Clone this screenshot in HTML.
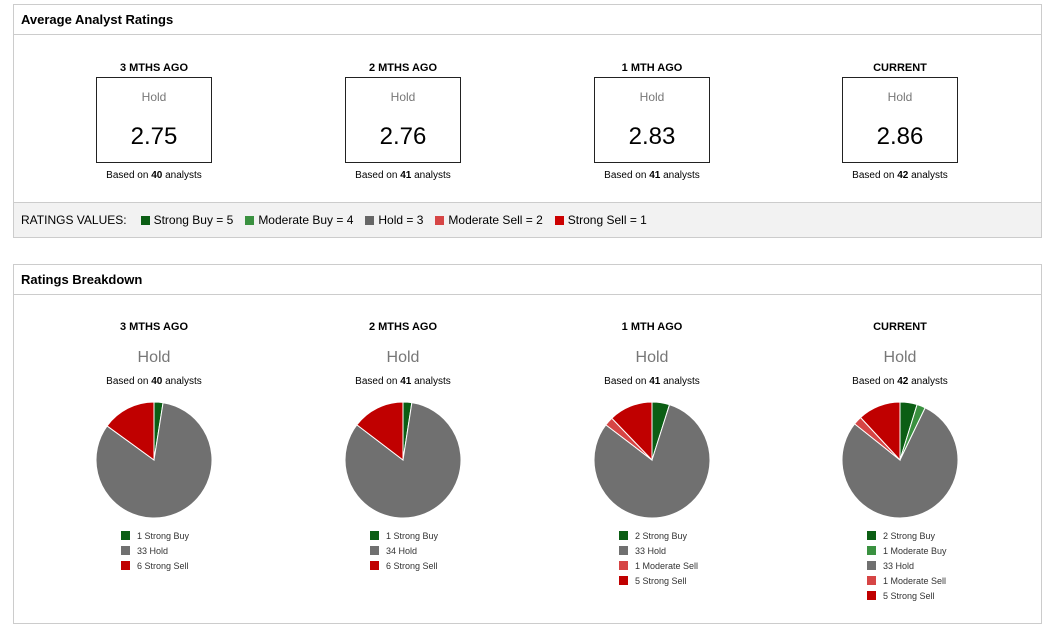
<!DOCTYPE html>
<html><head><meta charset="utf-8">
<style>
body{margin:0;width:1051px;height:630px;background:#fff;font-family:"Liberation Sans",sans-serif;position:relative;overflow:hidden;color:#000}
.panel{position:absolute;left:13px;width:1027px;border:1px solid #ccc;background:#fff}
.ph{height:29px;border-bottom:1px solid #ccc;font-weight:bold;font-size:13px;line-height:29px;padding-left:7px}
.a{position:absolute;text-align:center;width:200px}
.t{font-weight:bold;font-size:11px}
.box{position:absolute;width:114px;height:84px;border:1px solid #222;text-align:center}
.box .h{color:#777;font-size:12px;margin-top:12px}
.box .v{font-size:24px;margin-top:19px}
.based{font-size:10px}
.foot{position:absolute;left:0;bottom:0;width:100%;height:35px;background:#f2f2f2;border-top:1px solid #ccc;font-size:12px;line-height:35px;padding-left:7px;box-sizing:border-box}
.sq{display:inline-block;width:9px;height:9px;margin:0 4px 0 12px;vertical-align:-1px}
.hold2{font-size:16px;color:#777}
.leg{position:absolute;font-size:9px;color:#333}
.leg div{height:15px;line-height:15px}
.leg span{display:inline-block;width:9px;height:9px;margin-right:7px;vertical-align:-1px}
</style></head><body>
<div class="panel" style="top:4px;height:232px">
<div class="ph">Average Analyst Ratings</div>
<div class="foot">RATINGS VALUES:<span class="sq" style="background:#0b5e14;margin-left:14px"></span>Strong Buy = 5<span class="sq" style="background:#3a9140"></span>Moderate Buy = 4<span class="sq" style="background:#666"></span>Hold = 3<span class="sq" style="background:#d64545"></span>Moderate Sell = 2<span class="sq" style="background:#c00"></span>Strong Sell = 1</div>
</div>
<div class="panel" style="top:264px;height:358px">
<div class="ph">Ratings Breakdown</div>
</div>
<div id="root"></div>
<script>
const periods=["3 MTHS AGO","2 MTHS AGO","1 MTH AGO","CURRENT"];
const scores=["2.75","2.76","2.83","2.86"];
const analysts=[40,41,41,42];
const labels=["Strong Buy","Moderate Buy","Hold","Moderate Sell","Strong Sell"];
const colors=["#0b5e14","#3a9140","#707070","#d64545","#c00000"];
const strongBuy=[1,1,2,2];
const modBuy=[0,0,0,1];
const hold=[33,34,33,33];
const modSell=[0,0,1,1];
const strongSell=[6,6,5,5];
const centers=[154,403,652,900];
const root=document.getElementById('root');
function add(html){root.insertAdjacentHTML('beforeend',html);}
periods.forEach((p,i)=>{
  const cx=centers[i];
  add(`<div class="a t" style="left:${cx-100}px;top:62px">${p}</div>`);
  add(`<div class="box" style="left:${cx-58}px;top:77px"><div class="h">Hold</div><div class="v">${scores[i]}</div></div>`);
  add(`<div class="a based" style="left:${cx-100}px;top:170px">Based on <b>${analysts[i]}</b> analysts</div>`);
  add(`<div class="a t" style="left:${cx-100}px;top:321px">${p}</div>`);
  add(`<div class="a hold2" style="left:${cx-100}px;top:349px">Hold</div>`);
  add(`<div class="a based" style="left:${cx-100}px;top:376px">Based on <b>${analysts[i]}</b> analysts</div>`);
  const vals=[strongBuy[i],modBuy[i],hold[i],modSell[i],strongSell[i]];
  const tot=vals.reduce((a,b)=>a+b,0);
  const r=58,cy=460;
  let a0=0,svg=`<svg style="position:absolute;left:${cx-62}px;top:${cy-62}px" width="124" height="124">`;
  vals.forEach((v,k)=>{
    if(!v)return;
    const a1=a0+v/tot*2*Math.PI;
    const x0=62+r*Math.sin(a0),y0=62-r*Math.cos(a0),x1=62+r*Math.sin(a1),y1=62-r*Math.cos(a1);
    svg+=`<path d="M62 62L${x0} ${y0}A${r} ${r} 0 ${a1-a0>Math.PI?1:0} 1 ${x1} ${y1}Z" fill="${colors[k]}" stroke="#fff" stroke-width="1"/>`;
    a0=a1;
  });
  add(svg+'</svg>');
  let leg=`<div class="leg" style="left:${cx-33}px;top:529px">`;
  vals.forEach((v,k)=>{ if(v) leg+=`<div><span style="background:${colors[k]}"></span>${v} ${labels[k]}</div>`;});
  add(leg+'</div>');
});
</script>
</body></html>
